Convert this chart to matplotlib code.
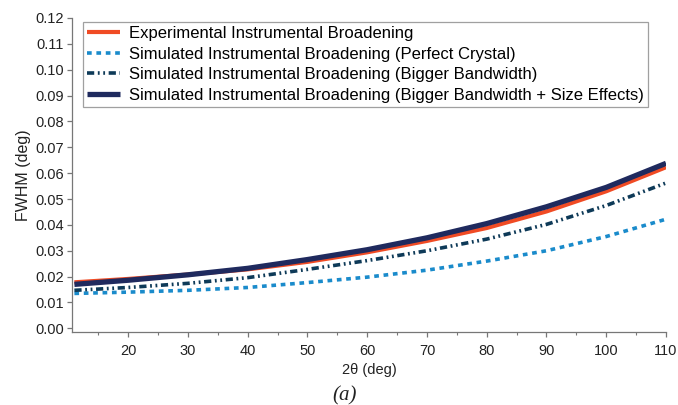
import numpy as np
import matplotlib.pyplot as plt
from matplotlib.ticker import MultipleLocator

# 2-theta positions (deg)
two_theta = [11, 20, 30, 40, 50, 60, 70, 80, 90, 100, 110]

# FWHM (deg) for each broadening model
fwhm_exp = [0.0178, 0.0191, 0.0208, 0.0228, 0.0257, 0.0294, 0.0338, 0.0388, 0.0452, 0.0530, 0.0623]
fwhm_perfect = [0.0135, 0.0140, 0.0147, 0.0158, 0.0177, 0.0198, 0.0225, 0.0260, 0.0300, 0.0355, 0.0422]
fwhm_bandwidth = [0.0147, 0.0158, 0.0174, 0.0196, 0.0228, 0.0262, 0.0300, 0.0345, 0.0402, 0.0475, 0.0562]
fwhm_bw_size = [0.0170, 0.0186, 0.0207, 0.0232, 0.0266, 0.0304, 0.0350, 0.0405, 0.0470, 0.0545, 0.0638]

labels = ['Experimental Instrumental Broadening',
          'Simulated Instrumental Broadening (Perfect Crystal)',
          'Simulated Instrumental Broadening (Bigger Bandwidth)',
          'Simulated Instrumental Broadening (Bigger Bandwidth + Size Effects)']


def main():
    plt.rcParams['font.family'] = ['Liberation Sans', 'DejaVu Sans']

    fig = plt.figure(figsize=(6.78, 4.05), dpi=100)
    ax = fig.add_axes([72/678, 1 - 331.7/405, (666 - 72)/678, (331.7 - 18)/405])

    ax.plot(two_theta, fwhm_exp, color='#F04B24', lw=3.0, label=labels[0],
            solid_capstyle='butt', zorder=3)
    ax.plot(two_theta, fwhm_perfect, color='#1A8BCB', lw=2.6, label=labels[1],
            dashes=(1.3, 1.3), zorder=2)
    ax.plot(two_theta, fwhm_bandwidth, color='#0E3A58', lw=2.6, label=labels[2],
            dashes=(2.0, 1.0, 0.5, 1.0, 0.5, 1.0), zorder=2)
    ax.plot(two_theta, fwhm_bw_size, color='#1F2A5E', lw=3.8, label=labels[3],
            solid_capstyle='butt', zorder=4)

    ax.set_xlim(10.6, 110)
    ax.set_ylim(-0.0013, 0.12)
    ax.xaxis.set_minor_locator(MultipleLocator(5))
    ax.set_xticks(range(20, 111, 10))
    yt = np.arange(0, 0.1201, 0.01)
    ax.set_yticks(yt)
    ax.set_yticklabels([f'{v:.2f}' for v in yt])

    for s in ['top', 'right']:
        ax.spines[s].set_visible(False)
    for s in ['left', 'bottom']:
        ax.spines[s].set_color('#777777')
        ax.spines[s].set_linewidth(0.9)
    ax.spines['left'].set_bounds(-0.0013, 0.12)

    ax.tick_params(which='major', direction='out', length=3.8, width=0.9,
                   color='#777777', labelsize=10.5, labelcolor='#222222')
    ax.tick_params(which='minor', direction='out', length=2.2, width=0.8,
                   color='#777777')
    ax.tick_params(axis='y', pad=2)
    ax.tick_params(axis='x', pad=5)

    ax.set_xlabel('2\u03b8 (deg)', fontsize=10.5, color='#222222', labelpad=4)
    ax.set_ylabel('FWHM (deg)', fontsize=11.5, color='#222222', labelpad=3)

    leg = ax.legend(loc='upper left', bbox_to_anchor=(0.0185, 0.987),
                    fontsize=12, frameon=True, fancybox=False,
                    handlelength=2.0, handletextpad=0.5,
                    labelspacing=0.33, borderpad=0.25, borderaxespad=0)
    leg.get_frame().set_edgecolor('#888888')
    leg.get_frame().set_linewidth(0.9)

    fig.text(345/678, 1 - 396/405, '(a)', ha='center', va='center',
             fontsize=15, family='Liberation Serif', style='italic', color='#222222')

    fig.savefig('out.png', dpi=100)


if __name__ == "__main__":
    main()
